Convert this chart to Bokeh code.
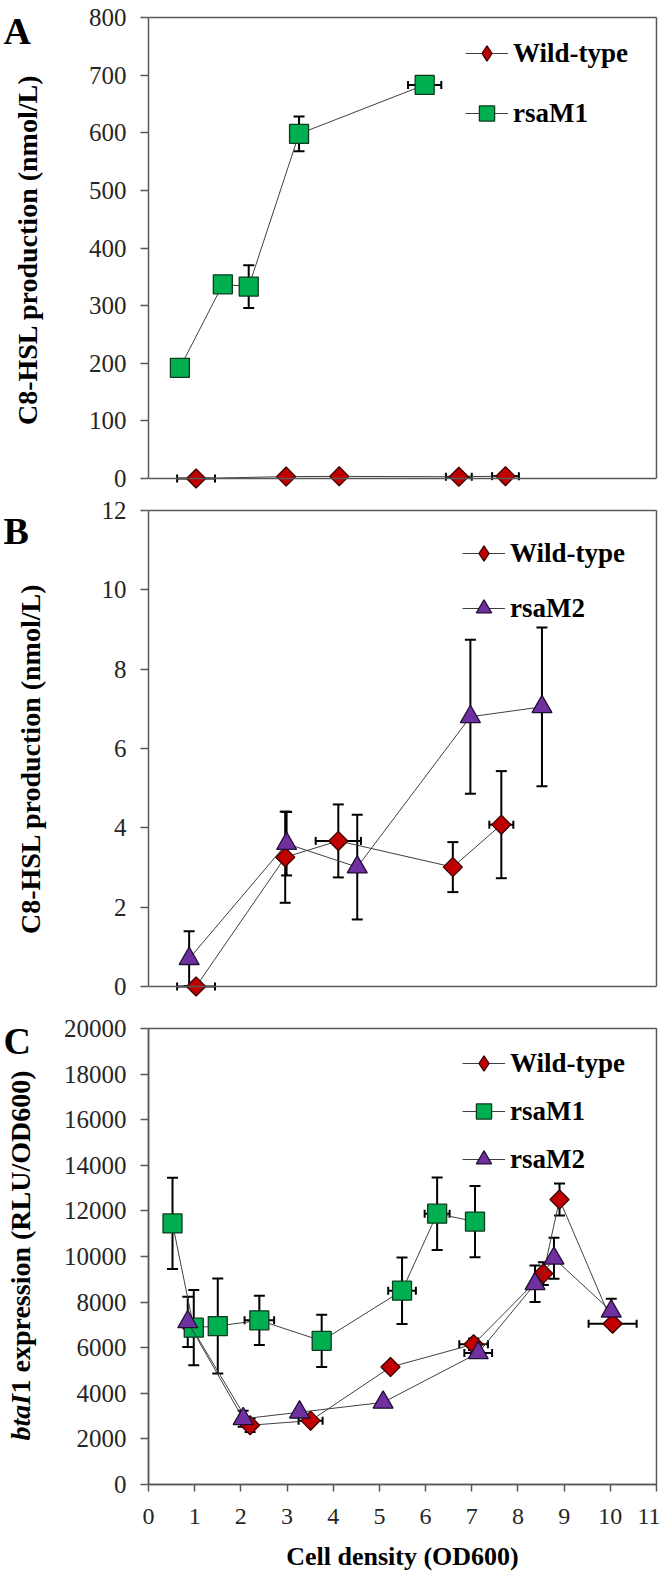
import numpy as np
from bokeh.plotting import figure
from bokeh.layouts import column, row
from bokeh.models import (ColumnDataSource, Whisker, TeeHead, Legend, LegendItem,
                          Span, LinearAxis, FixedTicker, Range1d)
from bokeh.core.properties import value
from bokeh.embed import file_html
from bokeh.resources import INLINE

# ---------------- data ----------------
x_ticks = list(range(0, 12))
a_y_ticks = list(range(0, 801, 100))
b_y_ticks = list(range(0, 13, 2))
c_y_ticks = list(range(0, 20001, 2000))

# Panel A : C8-HSL production (nmol/L)
a_wt_x = [1.03, 2.98, 4.13, 6.72, 7.73]
a_wt_y = [0.0, 3.3, 3.7, 3.0, 4.1]
a_wt_xerr = [0.41, 0.0, 0.0, 0.28, 0.29]
a_m1_x = [0.68, 1.61, 2.17, 3.26, 5.98]
a_m1_y = [192, 337, 333, 598, 683]
a_m1_yerr = [0, 0, 37, 30, 0]
a_m1_xerr = [0, 0, 0, 0, 0.36]

# Panel B : C8-HSL production (nmol/L)
b_wt_x = [1.03, 2.96, 4.11, 6.59, 7.64]
b_wt_y = [0.0, 3.26, 3.67, 3.01, 4.08]
b_wt_yerr = [0.0, 1.15, 0.92, 0.63, 1.35]
b_wt_xerr = [0.41, 0.0, 0.49, 0.12, 0.26]
b_m2_x = [0.88, 2.99, 4.52, 6.97, 8.52]
b_m2_y = [0.70, 3.60, 3.01, 6.80, 7.05]
b_m2_yerr = [0.69, 0.80, 1.32, 1.94, 2.00]

# Panel C : btaI1 expression (RLU/OD600)
c_wt_x = [0.93, 2.20, 3.51, 5.24, 7.04, 8.55, 8.90, 10.05]
c_wt_y = [6900, 2600, 2800, 5150, 6150, 9250, 12500, 7050]
c_wt_yerr = [0, 300, 0, 0, 250, 500, 700, 0]
c_wt_xerr = [0, 0, 0.26, 0, 0.31, 0, 0, 0.52]
c_m1_x = [0.52, 0.98, 1.50, 2.40, 3.75, 5.49, 6.25, 7.07]
c_m1_y = [11450, 6880, 6950, 7200, 6300, 8500, 11880, 11530]
c_m1_yerr = [2000, 1650, 2080, 1080, 1150, 1460, 1590, 1560]
c_m1_xerr = [0, 0, 0, 0.32, 0, 0.30, 0.27, 0]
c_m2_x = [0.85, 2.05, 3.27, 5.08, 7.14, 8.37, 8.78, 10.02]
c_m2_y = [7130, 2880, 3170, 3600, 5770, 8800, 9920, 7600]
c_m2_yerr = [1100, 350, 0, 0, 0, 800, 900, 550]
c_m2_xerr = [0, 0, 0, 0, 0.30, 0, 0, 0]

panel_letters = ["A", "B", "C"]
y_title_ab = "C8-HSL production (nmol/L)"
y_title_c_italic = "btaI"
y_title_c_rest = "1 expression (RLU/OD600)"
x_title = "Cell density (OD600)"

# ---------------- style ----------------
FONT = "'Liberation Serif'"
FRAME_C = "#595959"
LINE_C = "#404040"
TICK_TXT = "#262626"
STYLE = {
    "Wild-type": dict(marker="square", angle=np.pi / 4, size=13.5, leg="diamond",
                      fill_color="#C00000", line_color="#3a0000"),
    "rsaM1": dict(marker="square", angle=0.0, size=19, leg="square",
                  fill_color="#00B050", line_color="#0d3b1e"),
    "rsaM2": dict(marker="triangle", angle=0.0, size=20, leg="triangle",
                  fill_color="#7030A0", line_color="#1f0f33"),
}

X_LO, X_HI = 0, 11
FRAME_W = 508
LEFT_W = 50
EXT = 14  # px of frame below zero in panels A/B so markers on zero are not cut
C_BOTTOM = 90
TOTAL_H = (17 + 461 + EXT) + (18 + 476 + EXT) + (28 + 456 + C_BOTTOM)


def style_yaxis(ax, ticks, bounds):
    ax.ticker = FixedTicker(ticks=ticks)
    ax.bounds = bounds
    ax.axis_line_color = FRAME_C
    ax.axis_line_width = 1.5
    ax.major_tick_line_color = FRAME_C
    ax.major_tick_line_width = 1.5
    ax.major_tick_out = 8
    ax.major_tick_in = 0
    ax.minor_tick_line_color = None
    ax.major_label_text_font = FONT
    ax.major_label_text_font_size = "25px"
    ax.major_label_text_color = TICK_TXT
    ax.major_label_standoff = 14


def edge_axis(bounds):
    a = LinearAxis(ticker=FixedTicker(ticks=[]), bounds=bounds)
    a.axis_line_color = FRAME_C
    a.axis_line_width = 1.5
    a.major_tick_out = 0
    a.major_tick_in = 0
    a.minor_tick_out = 0
    a.minor_tick_in = 0
    a.major_label_text_font_size = "0px"
    return a


def add_series(p, name, x, y, xerr=None, yerr=None):
    x = np.asarray(x, float)
    y = np.asarray(y, float)
    st = STYLE[name]
    head = dict(line_color="black", line_width=2)
    if yerr is not None:
        e = np.asarray(yerr, float)
        m = e > 0
        if m.any():
            src = ColumnDataSource(dict(base=x[m], lower=y[m] - e[m], upper=y[m] + e[m]))
            p.add_layout(Whisker(source=src, base="base", lower="lower", upper="upper",
                                 dimension="height", level="underlay",
                                 line_color="black", line_width=2,
                                 upper_head=TeeHead(size=11, **head),
                                 lower_head=TeeHead(size=11, **head)))
    if xerr is not None:
        e = np.asarray(xerr, float)
        m = e > 0
        if m.any():
            src = ColumnDataSource(dict(base=y[m], lower=x[m] - e[m], upper=x[m] + e[m]))
            p.add_layout(Whisker(source=src, base="base", lower="lower", upper="upper",
                                 dimension="width", level="underlay",
                                 line_color="black", line_width=2,
                                 upper_head=TeeHead(size=8, **head),
                                 lower_head=TeeHead(size=8, **head)))
    ln = p.line(x, y, line_color=LINE_C, line_width=1)
    sc = p.scatter(x, y, marker=st["marker"], angle=st["angle"], size=st["size"],
                   fill_color=st["fill_color"], line_color=st["line_color"], line_width=1.3)
    if st["leg"] == st["marker"]:
        return [ln, sc]
    # legend key renderer (single NaN point, never visible in the plot)
    key = p.scatter(x=[np.nan], y=[np.nan], marker=st["leg"], size=st["size"],
                    fill_color=st["fill_color"], line_color=st["line_color"], line_width=1.3)
    return [ln, key]


def make_fig(frame_h, y_lo, y_hi, top, bottom, with_x_axis):
    p = figure(frame_width=FRAME_W, frame_height=frame_h,
               x_range=Range1d(X_LO, X_HI), y_range=Range1d(y_lo, y_hi),
               output_backend="svg", toolbar_location=None,
               x_axis_location="below" if with_x_axis else None,
               min_border_left=148 - LEFT_W, min_border_right=4,
               min_border_top=top, min_border_bottom=bottom,
               background_fill_color="white", border_fill_color="white")
    p.grid.visible = False
    return p


def make_legend(p, items, vx, vy, spacing):
    lg = Legend(items=[LegendItem(label=n, renderers=r) for n, r in items],
                location=(vx, vy), orientation="vertical",
                border_line_color=None, background_fill_alpha=0,
                padding=0, margin=0, spacing=spacing,
                glyph_width=43, glyph_height=38, label_height=38, label_standoff=5,
                label_text_font=FONT, label_text_font_style="bold",
                label_text_font_size="27px", label_text_color="black",
                label_text_baseline="middle")
    p.add_layout(lg)


def frame_edges(p, y_top):
    p.add_layout(edge_axis((0, y_top)), "right")
    p.add_layout(edge_axis((X_LO, X_HI)), "above")
    p.add_layout(Span(location=0, dimension="width", line_color=FRAME_C, line_width=1.5))


# ---------------- panel A ----------------
A_H, A_TOP = 461, max(a_y_ticks)
a_k = A_H / A_TOP
pA = make_fig(A_H + EXT, -EXT / a_k, A_TOP, 17, 0, False)
pA.outline_line_color = None
style_yaxis(pA.yaxis[0], a_y_ticks, (0, A_TOP))
frame_edges(pA, A_TOP)
rA_wt = add_series(pA, "Wild-type", a_wt_x, a_wt_y, xerr=a_wt_xerr)
rA_m1 = add_series(pA, "rsaM1", a_m1_x, a_m1_y, xerr=a_m1_xerr, yerr=a_m1_yerr)
make_legend(pA, [("Wild-type", rA_wt), ("rsaM1", rA_m1)], 317, 360, 22)

# ---------------- panel B ----------------
B_H, B_TOP = 476, max(b_y_ticks)
b_k = B_H / B_TOP
pB = make_fig(B_H + EXT, -EXT / b_k, B_TOP, 18, 0, False)
pB.outline_line_color = None
style_yaxis(pB.yaxis[0], b_y_ticks, (0, B_TOP))
frame_edges(pB, B_TOP)
rB_wt = add_series(pB, "Wild-type", b_wt_x, b_wt_y, xerr=b_wt_xerr, yerr=b_wt_yerr)
rB_m2 = add_series(pB, "rsaM2", b_m2_x, b_m2_y, yerr=b_m2_yerr)
make_legend(pB, [("Wild-type", rB_wt), ("rsaM2", rB_m2)], 314, 373, 17)

# ---------------- panel C ----------------
C_H, C_TOP = 456, max(c_y_ticks)
pC = make_fig(C_H, 0, C_TOP, 28, C_BOTTOM, True)
pC.outline_line_color = FRAME_C
pC.outline_line_width = 1.5
style_yaxis(pC.yaxis[0], c_y_ticks, "auto")
xa = pC.xaxis[0]
xa.ticker = FixedTicker(ticks=x_ticks)
xa.axis_line_color = FRAME_C
xa.axis_line_width = 1.5
xa.major_tick_line_color = FRAME_C
xa.major_tick_line_width = 1.5
xa.major_tick_out = 7
xa.major_tick_in = 0
xa.minor_tick_line_color = None
xa.major_label_text_font = FONT
xa.major_label_text_font_size = "24px"
xa.major_label_text_color = TICK_TXT
xa.major_label_standoff = 17
xa.axis_label = x_title
xa.axis_label_text_font = FONT
xa.axis_label_text_font_style = "bold"
xa.axis_label_text_font_size = "26px"
xa.axis_label_text_color = "black"
xa.axis_label_standoff = 15
rC_wt = add_series(pC, "Wild-type", c_wt_x, c_wt_y, xerr=c_wt_xerr, yerr=c_wt_yerr)
rC_m1 = add_series(pC, "rsaM1", c_m1_x, c_m1_y, xerr=c_m1_xerr, yerr=c_m1_yerr)
rC_m2 = add_series(pC, "rsaM2", c_m2_x, c_m2_y, xerr=c_m2_xerr, yerr=c_m2_yerr)
make_legend(pC, [("Wild-type", rC_wt), ("rsaM1", rC_m1), ("rsaM2", rC_m2)], 314, 306, 10)

# ---------------- left strip with panel letters and y titles ----------------
pL = figure(frame_width=LEFT_W, frame_height=TOTAL_H,
            x_range=Range1d(0, LEFT_W), y_range=Range1d(0, TOTAL_H),
            output_backend="svg", toolbar_location=None,
            x_axis_location=None, y_axis_location=None,
            min_border_left=0, min_border_right=0, min_border_top=0, min_border_bottom=0,
            outline_line_color=None, background_fill_color="white",
            border_fill_color="white")
pL.grid.visible = False


def page_y(py):
    return TOTAL_H - py


pL.text(x=[3, 3, 3], y=[page_y(30), page_y(530), page_y(1040)], text=panel_letters,
        text_font=value(FONT), text_font_style="bold", text_font_size="38px",
        text_align="left", text_baseline="alphabetic", text_color="black")
pL.text(x=[27, 30], y=[page_y(249), page_y(758)], text=[y_title_ab, y_title_ab],
        angle=np.pi / 2, text_font=value(FONT), text_font_style="bold",
        text_font_size="28px", text_align="center", text_baseline="middle",
        text_color="black")
pL.text(x=[20], y=[page_y(1440)], text=[y_title_c_italic], angle=np.pi / 2,
        text_font=value(FONT), text_font_style="bold italic", text_font_size="28px",
        text_align="left", text_baseline="middle", text_color="black")
pL.text(x=[20], y=[page_y(1393)], text=[y_title_c_rest], angle=np.pi / 2,
        text_font=value(FONT), text_font_style="bold", text_font_size="28px",
        text_align="left", text_baseline="middle", text_color="black")

layout = row(pL, column(pA, pB, pC))
open("out.html", "w").write(file_html(layout, INLINE))
